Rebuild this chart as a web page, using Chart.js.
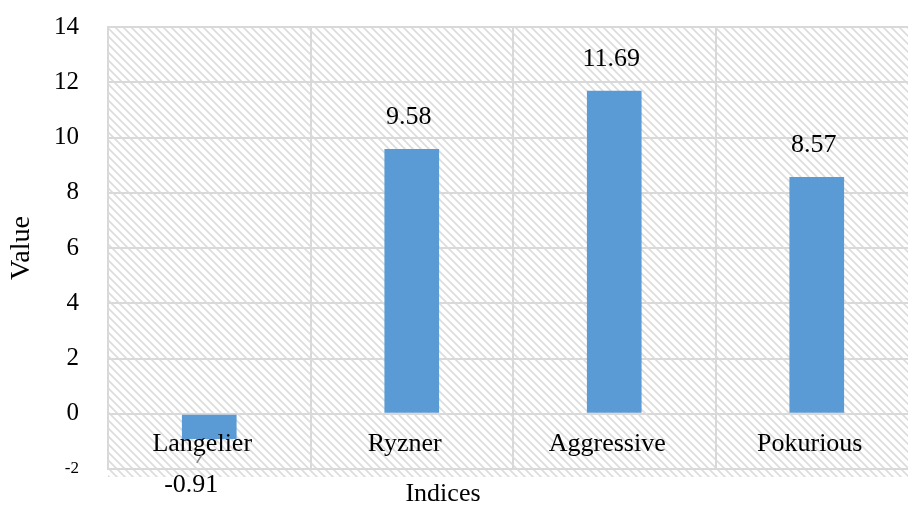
<!DOCTYPE html>
<html>
<head>
<meta charset="utf-8">
<script src="https://cdn.jsdelivr.net/npm/chart.js@4/dist/chart.umd.min.js"></script>
<style>
    html, body { margin: 0; padding: 0; background: #fff; overflow: hidden; }
    #wrap { width: 920px; height: 505px; }
</style>
</head>
<body>
<div id="wrap"><canvas id="indexChart"></canvas></div>
<script>
//#region Data

const categories = ['Langelier', 'Ryzner', 'Aggressive', 'Pokurious'];
const indexValues = [-0.91, 9.58, 11.69, 8.57];
const valueLabels = ['-0.91', '9.58', '11.69', '8.57'];
const yTicks = [-2, 0, 2, 4, 6, 8, 10, 12, 14];

//#endregion

//#region Chart

const SERIF = '"Liberation Serif", "Times New Roman", serif';
const GRID = '#D9D9D9';

// Diagonal hatch for the plot background.
function makeHatch() {
    const c = document.createElement('canvas');
    c.width = 8;
    c.height = 8;
    const g = c.getContext('2d');
    g.fillStyle = '#fff';
    g.fillRect(0, 0, 8, 8);
    g.strokeStyle = '#DCDCDC';
    g.lineWidth = 1.6;
    g.beginPath();
    g.moveTo(-2, -2); g.lineTo(10, 10);
    g.moveTo(-2, 6); g.lineTo(2, 10);
    g.moveTo(6, -2); g.lineTo(10, 2);
    g.stroke();
    return c;
}

const hatchPlugin = {
    id: 'hatch',
    beforeDraw(chart) {
        const { ctx, chartArea } = chart;
        ctx.save();
        ctx.fillStyle = ctx.createPattern(makeHatch(), 'repeat');
        ctx.fillRect(chartArea.left, chartArea.top, chartArea.right - chartArea.left, chartArea.bottom - chartArea.top + 8);
        ctx.restore();
    }
};

// Category names inside the plot, value labels and x title.
const labelPlugin = {
    id: 'labels',
    afterDatasetsDraw(chart) {
        const { ctx } = chart;
        const x = chart.scales.x;
        const y = chart.scales.y;
        const zero = y.getPixelForValue(0);
        ctx.save();
        ctx.fillStyle = '#000';
        ctx.textAlign = 'center';
        ctx.textBaseline = 'middle';
        ctx.font = '26px ' + SERIF;
        categories.forEach((name, i) => {
            ctx.fillText(name, x.getPixelForValue(i) - 7, zero + 30);
        });
        const meta = chart.getDatasetMeta(0);
        meta.data.forEach((bar, i) => {
            const v = indexValues[i];
            if (v >= 0) {
                ctx.fillText(valueLabels[i], bar.x - 3, bar.y - 32);
            } else {
                const ly = bar.y + 46;
                ctx.fillText(valueLabels[i], bar.x - 18, ly);
                // small leader line
                ctx.strokeStyle = '#7F7F7F';
                ctx.lineWidth = 1.5;
                ctx.beginPath();
                ctx.moveTo(bar.x - 7.5, ly - 30);
                ctx.lineTo(bar.x - 12.5, ly - 22);
                ctx.stroke();
            }
        });
        ctx.font = '26px ' + SERIF;
        ctx.fillText('Indices', 443, 494);
        ctx.restore();
    }
};

const data = {
    labels: categories,
    datasets: [{
        label: 'Value',
        data: indexValues,
        backgroundColor: '#5B9BD5',
        borderWidth: 0,
        barPercentage: 0.27,
        categoryPercentage: 1.0
    }]
};

const config = {
    type: 'bar',
    data: data,
    options: {
        animation: false,
        responsive: true,
        maintainAspectRatio: false,
        layout: {
            padding: { left: 0, right: 2, top: 27, bottom: 36 }
        },
        plugins: {
            legend: { display: false },
            tooltip: { enabled: false }
        },
        scales: {
            x: {
                grid: {
                    color: GRID,
                    lineWidth: 2,
                    drawTicks: false
                },
                border: { color: GRID, width: 2 },
                ticks: { display: false },
                afterFit: s => { s.height = 0; }
            },
            y: {
                min: -2,
                max: 14,
                afterBuildTicks: s => { s.ticks = yTicks.map(v => ({ value: v })); },
                grid: {
                    color: GRID,
                    lineWidth: 2,
                    drawTicks: true,
                    tickLength: 29,       // gap between labels and plot
                    tickColor: 'rgba(0,0,0,0)'
                },
                border: { color: GRID, width: 2 },
                ticks: {
                    padding: 0,
                    color: '#000',
                    font: c => ({ family: SERIF, size: c.tick && c.tick.value === -2 ? 17 : 25 })
                },
                title: {
                    display: true,
                    text: 'Value',
                    color: '#000',
                    font: { family: SERIF, size: 28 },
                    padding: { top: 5, bottom: 0 }
                },
                afterFit: s => { s.width = 108; }
            }
        }
    },
    plugins: [hatchPlugin, labelPlugin]
};

new Chart(document.getElementById('indexChart'), config);

//#endregion
</script>
</body>
</html>
